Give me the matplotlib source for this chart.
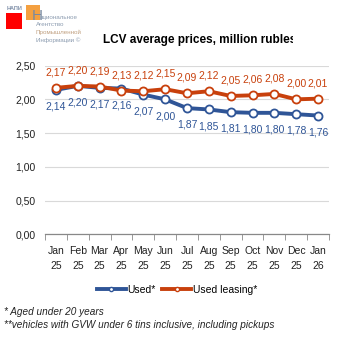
import matplotlib
matplotlib.use("Agg")
import matplotlib.pyplot as plt
from matplotlib.patches import Rectangle
from matplotlib.transforms import Bbox
from matplotlib.lines import Line2D

months = ["Jan\n25", "Feb\n25", "Mar\n25", "Apr\n25", "May\n25", "Jun\n25", "Jul\n25",
          "Aug\n25", "Sep\n25", "Oct\n25", "Nov\n25", "Dec\n25", "Jan\n26"]
used = [2.14, 2.20, 2.17, 2.16, 2.07, 2.00, 1.87, 1.85, 1.81, 1.80, 1.80, 1.78, 1.76]
used_leasing = [2.17, 2.20, 2.19, 2.13, 2.12, 2.15, 2.09, 2.12, 2.05, 2.06, 2.08, 2.00, 2.01]
yticks = [0.0, 0.5, 1.0, 1.5, 2.0, 2.5]

BLUE = "#2F5597"
ORANGE = "#C8400C"
FONT = "Liberation Sans"
plt.rcParams['font.family'] = [FONT, 'DejaVu Sans']

W = H = 353
fig = plt.figure(figsize=(3.53, 3.53), dpi=100)
ax = fig.add_axes([45 / W, 1 - 234.3 / H, 284 / W, 168.7 / H])

x = list(range(len(months)))
ax.plot(x, used, color=BLUE, lw=2.8, marker='o', ms=5.8, mfc='white', mec=BLUE, mew=1.3, zorder=3)
ax.plot(x, used_leasing, color=ORANGE, lw=2.8, marker='o', ms=5.8, mfc='white', mec=ORANGE, mew=1.3, zorder=4)

def fmt(v):
    return f"{v:.2f}".replace('.', ',')

for i, v in enumerate(used):
    ax.annotate(fmt(v), (i, v), xytext=(0, -8.5), textcoords='offset points',
                ha='center', va='top', color=BLUE, fontsize=7.5)
for i, v in enumerate(used_leasing):
    ax.annotate(fmt(v), (i, v), xytext=(0, 7.5), textcoords='offset points',
                ha='center', va='bottom', color=ORANGE, fontsize=7.5)

ax.set_xlim(-0.5, len(months) - 0.5)
ax.set_ylim(0, 2.5)
ax.set_yticks(yticks)
ax.set_yticklabels([fmt(t) for t in yticks], fontsize=7.5, color='#222222')
ax.set_xticks(x)
ax.set_xticklabels(months, fontsize=7.5, color='#222222', linespacing=1.65)
ax.set_xticks([i - 0.5 for i in range(len(months) + 1)], minor=True)
ax.tick_params(axis='x', which='major', length=0, pad=8.5)
ax.tick_params(axis='x', which='minor', length=4, color='#888888', direction='out')
ax.tick_params(axis='y', length=0, pad=7)
ax.grid(axis='y', color='#D9D9D9', lw=0.8)
ax.set_axisbelow(True)
for s in ['top', 'right', 'left']:
    ax.spines[s].set_visible(False)
ax.spines['bottom'].set_color('#888888')
ax.spines['bottom'].set_linewidth(0.9)

# Legend
handles = [Line2D([], [], color=BLUE, lw=2.8, marker='o', ms=3, mfc='white', mec=BLUE),
           Line2D([], [], color=ORANGE, lw=2.8, marker='o', ms=3, mfc='white', mec=ORANGE)]
fig.legend(handles, ["Used*", "Used leasing*"], loc='center', bbox_to_anchor=(177 / W, 1 - 290 / H),
           ncol=2, frameon=False, fontsize=7.5, handlelength=2.8, handletextpad=0.15, columnspacing=0.6)

# Footnotes
fig.text(4 / W, 1 - 312 / H, "* Aged under 20 years", fontsize=7.2, style='italic', color='#222222', va='center')
fig.text(4 / W, 1 - 325 / H, "**vehicles with GVW under 6 tins inclusive, including pickups", fontsize=7.2,
         style='italic', color='#222222', va='center')

# Title (clipped at right)
t = fig.text(103 / W, 1 - 40 / H, "LCV average prices, million rubles", fontsize=8.5, weight='bold',
             color='black', va='center')
t.set_clip_box(Bbox([[0, 0], [293, H]]))
t.set_clip_on(True)

# Logo
fig.add_artist(Rectangle((6 / W, 1 - 29 / H), 16 / W, 16 / H, transform=fig.transFigure, color='#FF0000', lw=0))
fig.add_artist(Rectangle((26 / W, 1 - 20 / H), 14 / W, 15 / H, transform=fig.transFigure, color='#F4A040', lw=0))
fig.text(7 / W, 1 - 8 / H, "НАПИ", fontsize=4, color='#7F8FA8', va='center', weight='bold')
fig.text(37 / W, 1 - 20.5 / H, "Н", fontsize=11, color='#7A8AA0', va='baseline', ha='center',
         family=['Liberation Sans Narrow', 'Liberation Sans'])
for i, (line, c, x0) in enumerate([("ациональное", '#8C9CB0', 40), ("Агентство", '#8C9CB0', 36),
                                   ("Промышленной", '#C0A080', 36), ("Информации ©", '#8C9CB0', 36)]):
    fig.text(x0 / W, 1 - (17 + 7.8 * i) / H, line, fontsize=4.5, color=c, va='center')

fig.savefig("out.png", dpi=100)
